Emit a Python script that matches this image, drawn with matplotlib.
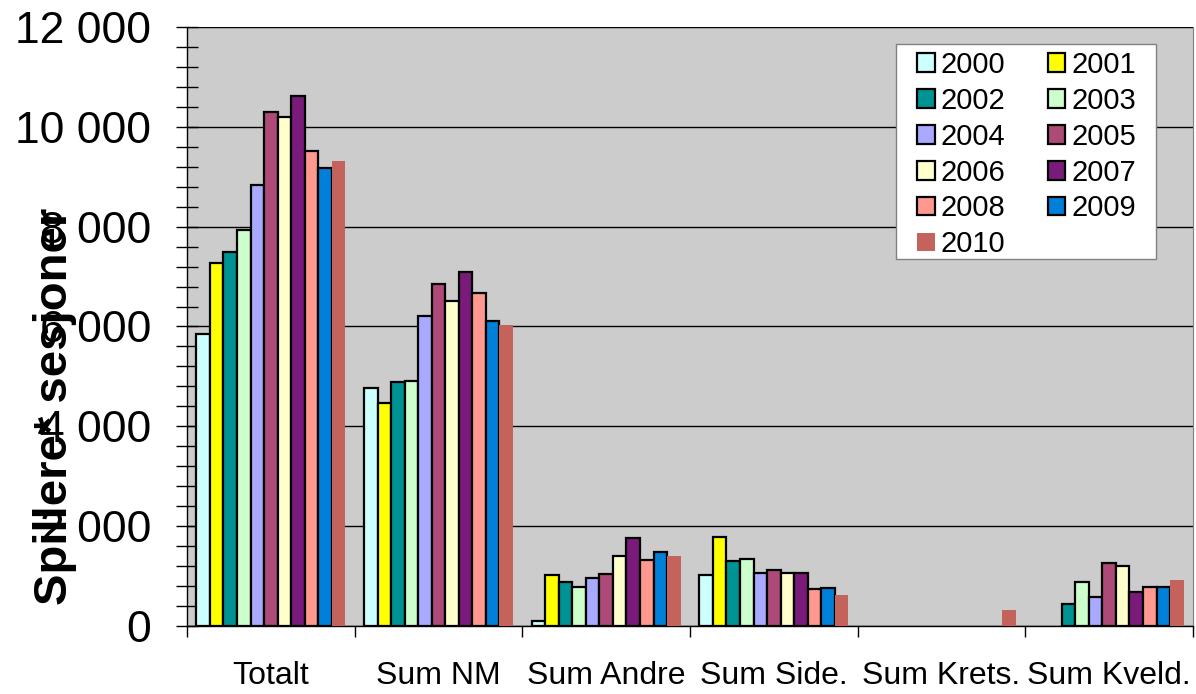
import numpy as np
import matplotlib
matplotlib.use("Agg")
import matplotlib.pyplot as plt
from matplotlib.patches import Rectangle
from matplotlib.ticker import MultipleLocator, FuncFormatter, FixedLocator

plt.rcParams['font.family'] = ['Liberation Sans', 'DejaVu Sans']

categories = ["Totalt", "Sum NM", "Sum Andre", "Sum Side.", "Sum Krets.", "Sum Kveld."]
years = ["2000", "2001", "2002", "2003", "2004", "2005", "2006", "2007", "2008", "2009", "2010"]
nan = np.nan
v2000 = [5850, 4770, 100, 1020, nan, nan]
v2001 = [7280, 4470, 1020, 1790, nan, nan]
v2002 = [7490, 4880, 880, 1300, nan, 450]
v2003 = [7940, 4910, 790, 1350, nan, 890]
v2004 = [8840, 6210, 970, 1060, nan, 590]
v2005 = [10300, 6860, 1040, 1130, nan, 1270]
v2006 = [10200, 6520, 1400, 1060, nan, 1210]
v2007 = [10610, 7100, 1770, 1070, nan, 680]
v2008 = [9520, 6670, 1330, 740, nan, 790]
v2009 = [9180, 6120, 1490, 770, nan, 790]
v2010 = [9310, 6030, 1400, 620, 320, 930]
series = [v2000, v2001, v2002, v2003, v2004, v2005, v2006, v2007, v2008, v2009, v2010]

colors = ["#CCFFFF", "#FFFF00", "#009393", "#CCFFCC", "#A9A9FF", "#AD4A78",
          "#FFFFCC", "#7A1A7A", "#FF9990", "#0080D8", "#C4625C"]
edges = ["black"] * 10 + ["none"]

W, H = 1196, 694
fig = plt.figure(figsize=(W / 100, H / 100), dpi=100)
ax = fig.add_axes([187/W, 1 - 626/H, (1193-187)/W, (626-27)/H])
ax.set_facecolor("#CCCCCC")

x = np.arange(len(categories))
n = len(series)
w = 0.888 / n
handles = []
for i, (vals, c, e) in enumerate(zip(series, colors, edges)):
    ax.bar(x + (i - (n - 1) / 2) * w, vals, width=w, color=c,
           edgecolor=e, linewidth=1.6, zorder=3)
    handles.append(Rectangle((0, 0), 1, 1, facecolor=c, edgecolor=e, linewidth=1.6))

ax.set_xlim(-0.5, len(categories) - 0.5)
ax.set_ylim(0, 12000)

ax.yaxis.set_major_locator(MultipleLocator(2000))
ax.yaxis.set_minor_locator(MultipleLocator(400))
ax.yaxis.set_major_formatter(FuncFormatter(lambda v, p: f"{int(v):,}".replace(",", " ")))
ax.tick_params(axis='y', which='both', direction='inout', length=16, width=1,
               labelsize=32, pad=18)
ax.grid(axis='y', which='major', color='black', linewidth=1, zorder=1)

ax.set_xticks(x)
ax.set_xticklabels(categories, fontsize=23)
ax.xaxis.set_minor_locator(FixedLocator(np.arange(-0.5, len(categories), 1.0)))
ax.tick_params(axis='x', which='major', length=0, pad=25)
ax.tick_params(axis='x', which='minor', direction='out', length=8, width=1)

for s in ['left', 'bottom']:
    ax.spines[s].set_color('black')
    ax.spines[s].set_linewidth(1)
ax.spines['right'].set_color('#808080')
ax.spines['top'].set_visible(False)

fig.text(55/W, 1 - 406/H, "Spillere* sesjoner", rotation=90, fontsize=34,
         fontweight='bold', ha='center', va='center')

# legend box
box = Rectangle((896/W, 1 - 259/H), (1156-896)/W, (259-44)/H, transform=fig.transFigure,
                facecolor='white', edgecolor='#808080', linewidth=1, zorder=2)
fig.add_artist(box)

order = [0, 2, 4, 6, 8, 10, 1, 3, 5, 7, 9]
leg = fig.legend([handles[k] for k in order], [years[k] for k in order], ncol=2,
                 loc='upper left', bbox_to_anchor=(917/W, 1 - 51/H),
                 fontsize=21, frameon=False,
                 handlelength=0.6, handleheight=0.6, handletextpad=0.22,
                 columnspacing=1.45, labelspacing=0.27, borderpad=0,
                 borderaxespad=0)
leg.set_zorder(5)

fig.savefig("out.png", dpi=100, facecolor='white')
